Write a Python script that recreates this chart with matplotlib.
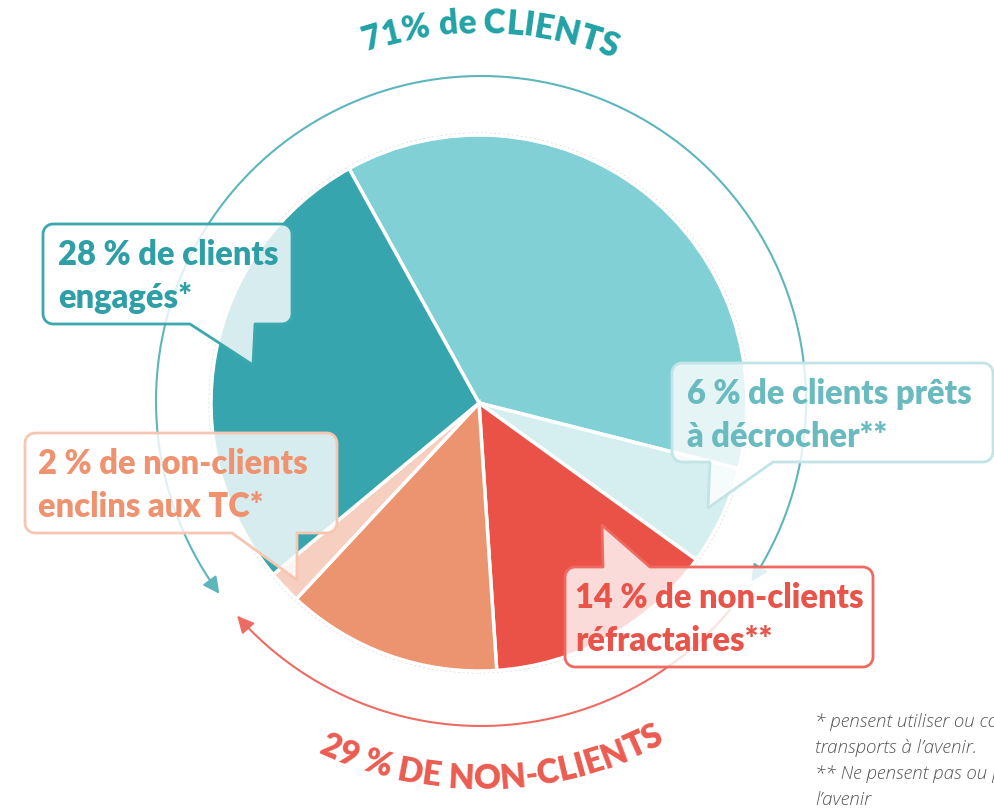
import numpy as np
import matplotlib.pyplot as plt
from matplotlib.patches import Polygon, FancyArrowPatch, Circle
from matplotlib.path import Path
from matplotlib.font_manager import FontProperties

# pie slices, clockwise from the top
segments = ["clients (autres)", "clients prêts à décrocher", "non-clients réfractaires",
            "non-clients (autres)", "non-clients enclins aux TC", "clients engagés"]
shares = [37, 6, 14, 13, 2, 28]
slice_colors = ["#80D0D6", "#D5EEEF", "#EA5248", "#EC936F", "#F7CFC0", "#36A5AD"]

group_titles = ["71% de CLIENTS", "29 % DE NON-CLIENTS"]
group_colors = ["#22A2A6", "#EB5B50"]

callout_texts = ["28 % de clients\nengagés*",
                 "6 % de clients prêts\nà décrocher**",
                 "2 % de non-clients\nenclins aux TC*",
                 "14 % de non-clients\nréfractaires**"]
callout_text_colors = ["#2E9FA6", "#6ABBC0", "#EF9270", "#E9544A"]
callout_edge_colors = ["#3BA8AE", "#C2E4E6", "#F6C6B2", "#EE6A60"]

footnotes = ["* pensent utiliser ou continuer à utiliser les",
             "transports à l’avenir.",
             "** Ne pensent pas ou plus utiliser les transports à",
             "l’avenir"]

W, H = 995, 808
FONT = "Lato"

def Y(y):
    return H - y

fig = plt.figure(figsize=(9.95, 8.08), dpi=100)
ax = fig.add_axes([0, 0, 1, 1])

pie_c = (479, Y(403))
ax.pie(shares, colors=slice_colors, startangle=119, counterclock=False,
       radius=268, center=pie_c,
       wedgeprops=dict(edgecolor="white", linewidth=2.5))
ax.add_patch(Circle(pie_c, 270, fill=False, edgecolor="#e2e2e2", lw=0.8,
                    linestyle=(0, (2, 2)), zorder=0))
ax.set_xlim(0, W)
ax.set_ylim(0, H)
ax.set_aspect("equal")
ax.axis("off")

# outer ring arcs with arrows
ring_c = (481, Y(401))
ring_r = 325

def arc(t0, t1, r=ring_r, n=300):
    t = np.radians(np.linspace(t0, t1, n))
    return np.column_stack([ring_c[0] + r * np.cos(t), ring_c[1] + r * np.sin(t)])

ax.add_patch(FancyArrowPatch(path=Path(arc(-33.7, 216.4)),
                             arrowstyle="<|-|>,head_length=10,head_width=5",
                             mutation_scale=1, color="#5DB6BB", lw=1.5, zorder=2))
ax.add_patch(FancyArrowPatch(path=Path(arc(-40, -138.6)),
                             arrowstyle="-|>,head_length=10,head_width=5",
                             mutation_scale=1, color="#EC6B62", lw=1.5, zorder=2))

# curved group titles
renderer = fig.canvas.get_renderer()

def curved_text(s, theta_c, radius, top, color, fs=24):
    fp = FontProperties(family=FONT, weight="heavy", size=fs)
    def width(t):
        return renderer.get_text_width_height_descent(t, fp, ismath=False)[0]
    total = width(s)
    for i, ch in enumerate(s):
        if ch == " ":
            continue
        mid = width(s[:i + 1]) - width(ch) / 2
        off = np.degrees((mid - total / 2) / radius)
        th = theta_c - off if top else theta_c + off
        x = ring_c[0] + radius * np.cos(np.radians(th))
        y = ring_c[1] + radius * np.sin(np.radians(th))
        rot = th - 90 if top else th + 90
        ax.text(x, y, ch, fontproperties=fp, color=color, rotation=rot,
                rotation_mode="anchor", ha="center", va="baseline", zorder=5)

curved_text(group_titles[0], 88.5, 368, True, group_colors[0])
curved_text(group_titles[1], -88.2, 388, False, group_colors[1])

# speech-bubble callouts (pixel coords, y down)
def bubble(x0, y0, x1, y1, tail, r=10, n=8):
    side, a, b, tip = tail
    pts = []
    def corner(cx, cy, t0, t1):
        t = np.radians(np.linspace(t0, t1, n))
        pts.extend(zip(cx + r * np.cos(t), cy + r * np.sin(t)))
    corner(x0 + r, y0 + r, 180, 270)
    if side == "top":
        pts.extend([(a, y0), tip, (b, y0)])
    corner(x1 - r, y0 + r, 270, 360)
    corner(x1 - r, y1 - r, 0, 90)
    if side == "bottom":
        pts.extend([(b, y1), tip, (a, y1)])
    corner(x0 + r, y1 - r, 90, 180)
    return [(px, Y(py)) for px, py in pts]

boxes = [(43, 224, 292, 324, ("bottom", 190, 255, (253, 365))),
         (672, 363, 993, 462, ("bottom", 710, 773, (708, 508))),
         (25, 433, 337, 533, ("bottom", 232, 297, (297, 580))),
         (565, 567, 873, 667, ("top", 603, 650, (602, 525)))]
text_pad = [15, 15, 13, 10]

fp_box = FontProperties(family=FONT, weight="heavy", size=23.5)
for (x0, y0, x1, y1, tail), txt, tc, ec, pad in zip(
        boxes, callout_texts, callout_text_colors, callout_edge_colors, text_pad):
    ax.add_patch(Polygon(bubble(x0, y0, x1, y1, tail), closed=True,
                         facecolor=(1, 1, 1, 0.8), edgecolor=ec, lw=2,
                         joinstyle="round", zorder=3))
    for k, line in enumerate(txt.split("\n")):
        ax.text(x0 + pad, Y(y0 + 41 + 43 * k), line, fontproperties=fp_box,
                color=tc, ha="left", va="baseline", zorder=4)

# footnotes (cropped at the right edge, as in the source)
fp_note = FontProperties(family="Open Sans", style="italic", weight="light", size=13.5)
for k, line in enumerate(footnotes):
    ax.text(815, Y(727 + 26 * k), line, fontproperties=fp_note, color="#555555",
            ha="left", va="baseline", zorder=4)

fig.savefig("out.png", dpi=100)
